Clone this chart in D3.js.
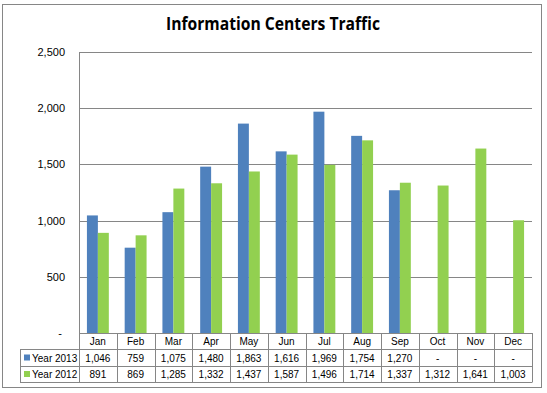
<html>
<head>
<meta charset="utf-8">
<title>Information Centers Traffic</title>
<style>
  body {margin: 0; background: #fff;}
  svg {display: block;}
  text {font-family: "Liberation Sans", Arial, sans-serif; fill: #000;}
</style>
</head>
<body>
<svg></svg>
<script src="https://d3js.org/d3.v7.min.js"></script>
<script>
// chart data
const months = ["Jan","Feb","Mar","Apr","May","Jun","Jul","Aug","Sep","Oct","Nov","Dec"];
const seriesNames = ["Year 2013", "Year 2012"];
const year2013 = [1046, 759, 1075, 1480, 1863, 1616, 1969, 1754, 1270, null, null, null];
const year2012 = [891, 869, 1285, 1332, 1437, 1587, 1496, 1714, 1337, 1312, 1641, 1003];
const yTicks = [0, 500, 1000, 1500, 2000, 2500];

let width = 547, height = 393;
let colors = ["#4F81BD", "#92D050"];
let lineCol = "#868686";

let svg = d3.select("svg").attr("width", width).attr("height", height);

// outer chart border
svg.append("rect")
  .attr("x", 2.5).attr("y", 4.5)
  .attr("width", 539).attr("height", 383)
  .attr("fill", "#fff").attr("stroke", lineCol);

svg.append("text")
  .attr("x", 273).attr("y", 30)
  .attr("text-anchor", "middle")
  .attr("textLength", 214).attr("lengthAdjust", "spacingAndGlyphs")
  .style("font-family", "'Open Sans', sans-serif")
  .style("font-weight", "bold").style("font-size", "17px")
  .text("Information Centers Traffic");

let plotL = 79, plotR = 532, plotT = 52, zeroY = 333;
let rowY = [333, 349, 366, 382];
let legLeft = 20;

let x = d3.scaleBand().domain(months).range([plotL, plotR]);
let x1 = d3.scaleBand().domain(seriesNames)
  .range([x.bandwidth() * 0.21, x.bandwidth() * 0.79]);
let y = d3.scaleLinear().domain([0, 2500]).range([zeroY, plotT]);

// gridlines
svg.append("g").selectAll("line")
  .data(yTicks.filter(d => d > 0))
  .join("line")
  .attr("x1", plotL).attr("x2", plotR)
  .attr("y1", d => Math.round(y(d)) + 0.5).attr("y2", d => Math.round(y(d)) + 0.5)
  .attr("stroke", lineCol);

// y labels
let fmt = d3.format(",");
svg.append("g").selectAll("text")
  .data(yTicks)
  .join("text")
  .attr("x", d => d === 0 ? 62 : 65)
  .attr("y", d => y(d) + 4)
  .attr("text-anchor", "end")
  .style("font-size", "11px")
  .text(d => d === 0 ? "-" : fmt(d));

// bars
let series = [year2013, year2012];
let g = svg.append("g");
series.forEach((vals, si) => {
  g.append("g").selectAll("rect")
    .data(vals.map((v, i) => ({m: months[i], v: v})).filter(d => d.v != null))
    .join("rect")
    .attr("x", d => x(d.m) + x1(seriesNames[si]))
    .attr("width", x1.bandwidth())
    .attr("y", d => y(d.v))
    .attr("height", d => zeroY - y(d.v))
    .attr("fill", colors[si]);
});

// data table
let t = svg.append("g").attr("stroke", lineCol).attr("fill", "none");
t.append("line").attr("x1", plotL).attr("x2", plotR).attr("y1", rowY[0] + 0.5).attr("y2", rowY[0] + 0.5);
rowY.slice(1).forEach(ry => {
  t.append("line").attr("x1", legLeft).attr("x2", plotR).attr("y1", ry + 0.5).attr("y2", ry + 0.5);
});
t.append("line").attr("x1", plotL + 0.5).attr("x2", plotL + 0.5).attr("y1", plotT).attr("y2", rowY[3] + 0.5);
t.append("line").attr("x1", legLeft + 0.5).attr("x2", legLeft + 0.5).attr("y1", rowY[1]).attr("y2", rowY[3] + 0.5);
months.forEach(m => {
  let xe = Math.round(x(m) + x.bandwidth()) + 0.5;
  t.append("line").attr("x1", xe).attr("x2", xe).attr("y1", rowY[0]).attr("y2", rowY[3] + 0.5);
});

svg.append("g").selectAll("text")
  .data(months)
  .join("text")
  .attr("x", d => x(d) + x.bandwidth() / 2)
  .attr("y", (rowY[0] + rowY[1]) / 2 + 4)
  .attr("text-anchor", "middle")
  .style("font-size", "10px")
  .text(d => d);

series.forEach((vals, si) => {
  let cy = (rowY[si + 1] + rowY[si + 2]) / 2;
  svg.append("rect")
    .attr("x", 24).attr("y", cy - 3)
    .attr("width", 6).attr("height", 6)
    .attr("fill", colors[si]);
  svg.append("text")
    .attr("x", 32).attr("y", cy + 4)
    .style("font-size", "10px")
    .text(seriesNames[si]);
  svg.append("g").selectAll("text")
    .data(vals.map((v, i) => ({m: months[i], v: v})))
    .join("text")
    .attr("x", d => x(d.m) + x.bandwidth() / 2)
    .attr("y", cy + 4)
    .attr("text-anchor", "middle")
    .style("font-size", "10px")
    .text(d => d.v == null ? "-" : fmt(d.v));
});
</script>
</body>
</html>
